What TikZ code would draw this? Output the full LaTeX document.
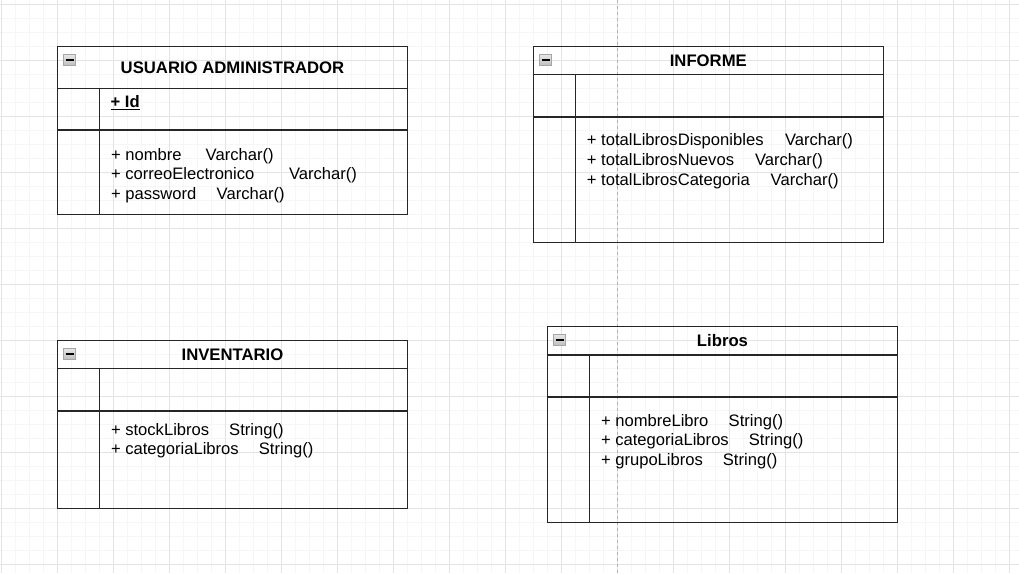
\documentclass[tikz,border=0pt]{standalone}
\usepackage{fontspec}
\setmainfont{Liberation Sans}
\newcommand\umlclass[9]{%
  \draw[border] (#2,#3) rectangle (#4,#5);
  \draw[border] (#2,#6) -- (#4,#6);
  \draw[sectline] (#2,#7) -- (#4,#7);
  \draw[border] (#8,#6) -- (#8,#5);
  \draw[iconbox] ({#2+6},{#3+8}) rectangle ({#2+18.5},{#3+18.5});
  \draw[line width=1.7pt] ({#2+8.2},{#3+13.3}) -- ({#2+16.3},{#3+13.3});
  \node[classtitle] (#1-title) at ({(#2+#4)/2},{(#3+#6)/2+5.9}) {#9};
}
\newcommand\umlattr[6]{%
  \node[attr] (#1) at (#2,#3) {+ #4};
  \node[attr] (#1-type) at (#5,#3) {#6};
}
\begin{document}
\begin{tikzpicture}[x=1pt,y=-1pt,
  minorgrid/.style={draw=gray!7, line width=0.8pt},
  majorgrid/.style={draw=gray!22, line width=1pt},
  border/.style={draw=black!85, line width=1.3pt},
  sectline/.style={draw=black!85, line width=2pt},
  iconbox/.style={draw=gray!70, top color=gray!20, bottom color=gray!50, line width=0.9pt},
  classtitle/.style={font=\fontsize{16.7}{19}\selectfont\bfseries, inner sep=0pt, anchor=base},
  attr/.style={font=\fontsize{16.6}{19}\selectfont, inner sep=0pt, anchor=base west},
]
\useasboundingbox (0,0) rectangle (1019,573);
\fill[white] (0,0) rectangle (1019,573);
\foreach \i in {0,...,72} \draw[minorgrid] ({1+14*\i},0) -- ({1+14*\i},573);
\foreach \j in {0,...,40} \draw[minorgrid] (0,{4+14*\j}) -- (1019,{4+14*\j});
\foreach \i in {0,...,18} \draw[majorgrid] ({1+56*\i},0) -- ({1+56*\i},573);
\foreach \j in {0,...,10} \draw[majorgrid] (0,{4+56*\j}) -- (1019,{4+56*\j});
\draw[gray!60, line width=0.8pt, dash pattern=on 3pt off 3pt] (617.7,0) -- (617.7,573);

% USUARIO ADMINISTRADOR
\umlclass{usr}{57.3}{46.7}{407.7}{214.3}{88.3}{130.3}{99.7}{USUARIO ADMINISTRADOR}
\node[attr, font=\fontsize{16.6}{19}\selectfont\bfseries] (usr-id) at (110.5,107.5) {+ Id};
\draw[line width=1.4pt] ([yshift=-1.6pt]usr-id.south west) -- ([yshift=-1.6pt]usr-id.south east);
\umlattr{usr-a1}{110.8}{160}{nombre}{205.5}{Varchar()}
\umlattr{usr-a2}{110.8}{179.3}{correoElectronico}{288.8}{Varchar()}
\umlattr{usr-a3}{110.8}{199}{password}{216.5}{Varchar()}

% INFORME
\umlclass{inf}{533.3}{46.7}{883.3}{242.3}{74.7}{116.7}{575.3}{INFORME}
\umlattr{inf-a1}{586.7}{145.7}{totalLibrosDisponibles}{784.8}{Varchar()}
\umlattr{inf-a2}{586.7}{165.5}{totalLibrosNuevos}{754.8}{Varchar()}
\umlattr{inf-a3}{586.7}{185}{totalLibrosCategoria}{770.5}{Varchar()}

% INVENTARIO
\umlclass{inv}{57.3}{340.7}{407.7}{508.3}{368.7}{410.7}{99.7}{INVENTARIO}
\umlattr{inv-a1}{110.8}{435.7}{stockLibros}{229}{String()}
\umlattr{inv-a2}{110.8}{454.7}{categoriaLibros}{258.7}{String()}

% Libros
\umlclass{lib}{547.3}{326.7}{897.7}{522.7}{355}{396.7}{589.7}{Libros}
\umlattr{lib-a1}{600.8}{426.3}{nombreLibro}{728.5}{String()}
\umlattr{lib-a2}{600.8}{445}{categoriaLibros}{748.7}{String()}
\umlattr{lib-a3}{600.8}{465}{grupoLibros}{722.7}{String()}
\end{tikzpicture}
\end{document}
